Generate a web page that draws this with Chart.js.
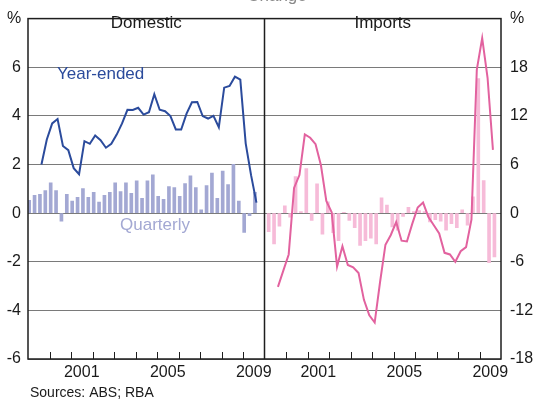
<!DOCTYPE html>
<html><head><meta charset="utf-8">
<script src="https://cdn.jsdelivr.net/npm/chart.js@4.4.1/dist/chart.umd.min.js"></script>
<style>html,body{margin:0;padding:0;background:#fff}#wrap{width:533px;height:399px;position:relative}</style>
</head><body><div id="wrap"><canvas id="c" width="533" height="399"></canvas></div>
<script>
const quarters = [
 '1999Q1','1999Q2','1999Q3','1999Q4','2000Q1','2000Q2','2000Q3','2000Q4',
 '2001Q1','2001Q2','2001Q3','2001Q4','2002Q1','2002Q2','2002Q3','2002Q4',
 '2003Q1','2003Q2','2003Q3','2003Q4','2004Q1','2004Q2','2004Q3','2004Q4',
 '2005Q1','2005Q2','2005Q3','2005Q4','2006Q1','2006Q2','2006Q3','2006Q4',
 '2007Q1','2007Q2','2007Q3','2007Q4','2008Q1','2008Q2','2008Q3','2008Q4',
 '2009Q1','2009Q2','2009Q3'];
const domesticQuarterly = [0.53,0.73,0.77,0.93,1.25,0.93,-0.33,0.77,0.49,0.65,
 1.01,0.65,0.85,0.45,0.73,0.85,1.25,0.89,1.25,0.81,
 1.33,0.61,1.33,1.57,0.69,0.57,1.09,1.05,0.69,1.21,
 1.53,1.05,0.13,1.13,1.65,0.61,1.73,1.17,2.01,0.49,
 -0.79,-0.11,0.85];
const domesticYearEnded = [null,null,2.0,3.03,3.69,3.87,2.76,2.59,1.85,1.6,
 2.96,2.85,3.19,3.0,2.69,2.85,3.23,3.69,4.25,4.24,
 4.33,4.05,4.15,4.89,4.25,4.19,3.99,3.44,3.44,4.09,
 4.56,4.57,3.99,3.89,4.0,3.53,5.16,5.23,5.61,5.49,
 2.87,1.56,0.43];
const importsQuarterly = [-2.3,-3.8,-1.6,0.9,-0.5,4.5,0.2,5.5,-0.9,3.6,
 -2.6,1.4,-2.4,-3.4,0.1,-0.9,-1.8,-4.0,-3.4,-3.1,
 -3.8,1.9,1.0,-1.7,-2.1,-0.4,0.7,0.2,0.3,0.2,
 -1.1,-0.8,-1.0,-2.1,-1.3,-1.8,0.4,-1.5,2.0,16.6,
 4.0,-6.1,-5.4];
const importsYearEnded = [null,null,-9.1,-7.1,-5.1,3.1,4.7,9.7,9.3,8.5,
 5.9,1.5,0.1,-6.6,-4.1,-6.4,-6.7,-7.4,-10.7,-12.6,
 -13.5,-8.5,-3.9,-2.7,-1.1,-3.4,-3.5,-1.3,0.7,1.3,
 -0.5,-1.5,-2.5,-4.9,-5.1,-6.0,-4.7,-4.2,-0.8,17.7,
 21.6,16.7,7.8];
const panelTitles = ['Domestic','Imports'];
const yearLabels = ['2001','2005','2009'];
const firstYear = 1999, panelYears = 11;
const seriesLabels = ['Year-ended','Quarterly'];
const chartSubtitle = 'Change';
const sourceNote = 'Sources: ABS; RBA';

const FONT = "'Liberation Sans', Arial, sans-serif";
const QPP = panelYears*4; // quarters per panel
function qpos(q, panel){ const y=+q.slice(0,4), n=+q.slice(5); return panel*QPP + (y-firstYear)*4 + (n-1) + 0.5; }
function pts(vals, panel){ return quarters.map((q,i)=>({x:qpos(q,panel), y:vals[i]})); }

const C = {dBar:'#a3a8d3', dLine:'#2b4b9c', iBar:'#f6bbd8', iLine:'#e2629f', grid:'#7a7a7a', frame:'#1e1e1e', text:'#1a1a1a'};

const deco = {
 id:'deco',
 afterDraw(chart){
  const ctx=chart.ctx, a=chart.chartArea, x=chart.scales.x;
  ctx.save();
  ctx.strokeStyle=C.frame; ctx.lineWidth=1;
  for(let p=0;p<2;p++){
   for(let k=1;k<panelYears;k++){
     const px=Math.round(x.getPixelForValue(p*QPP+k*4))+0.5;
     ctx.beginPath(); ctx.moveTo(px,a.bottom); ctx.lineTo(px,a.bottom-7); ctx.stroke();
   }
  }
  ctx.lineWidth=1.5; ctx.strokeStyle=C.frame;
  ctx.strokeRect(a.left,a.top,a.right-a.left,a.bottom-a.top);
  const dv=x.getPixelForValue(QPP);
  ctx.beginPath(); ctx.moveTo(dv,a.top); ctx.lineTo(dv,a.bottom); ctx.stroke();
  ctx.fillStyle=C.text; ctx.font='16px '+FONT; ctx.textAlign='center'; ctx.textBaseline='middle';
  for(let p=0;p<2;p++){
    yearLabels.forEach(l=>{ const v=p*QPP+(+l-firstYear)*4+2; ctx.fillText(l, x.getPixelForValue(v), 373); });
  }
  ctx.fillText('%', 14, 19); ctx.fillText('%', 517, 19);
  ctx.font='17px '+FONT;
  panelTitles.forEach((t,p)=>ctx.fillText(t, x.getPixelForValue(p*QPP+QPP/2), 23));
  // subtitle, cut off by top edge as in the reference
  ctx.fillStyle='#8a8a8a'; ctx.textBaseline='alphabetic';
  ctx.fillText(chartSubtitle, 277, 0.6);
  ctx.textAlign='left';
  ctx.fillStyle=C.dLine; ctx.fillText(seriesLabels[0], 57, 79);
  ctx.fillStyle=C.dBar; ctx.fillText(seriesLabels[1], 120, 230);
  ctx.fillStyle=C.text; ctx.font='14px '+FONT; ctx.textBaseline='middle';
  ctx.fillText(sourceNote, 30, 393);
  ctx.restore();
 }
};

new Chart(document.getElementById('c'), {
 type:'bar',
 data:{datasets:[
  {type:'line', data:pts(domesticYearEnded,0), borderColor:C.dLine, borderWidth:2, pointRadius:0, tension:0, yAxisID:'y', order:1},
  {type:'line', data:pts(importsYearEnded,1), borderColor:C.iLine, borderWidth:2, pointRadius:0, tension:0, yAxisID:'y2', order:1},
  {data:pts(domesticQuarterly,0), backgroundColor:C.dBar, barThickness:3, yAxisID:'y', order:2},
  {data:pts(importsQuarterly,1), backgroundColor:C.iBar, barThickness:3, yAxisID:'y2', order:2}
 ]},
 options:{
  responsive:false, animation:false, devicePixelRatio:1,
  layout:{padding:{top:10,bottom:40,left:0,right:0}},
  plugins:{legend:{display:false}, tooltip:{enabled:false}},
  scales:{
   x:{type:'linear', min:0, max:2*QPP, offset:false, display:false, grid:{offset:false}},
   y:{position:'left', min:-6, max:8,
      ticks:{stepSize:2, color:C.text, font:{size:16,family:FONT}, padding:7, callback:v=>v===8?'':v},
      grid:{color:C.grid, lineWidth:1, drawTicks:false}, border:{display:false},
      afterFit(s){s.width=28;}},
   y2:{position:'right', min:-18, max:24,
      ticks:{stepSize:6, color:C.text, font:{size:16,family:FONT}, padding:9, callback:v=>v===24?'':v},
      grid:{drawOnChartArea:false, drawTicks:false}, border:{display:false},
      afterFit(s){s.width=32;}}
  }
 },
 plugins:[deco]
});
</script></body></html>
